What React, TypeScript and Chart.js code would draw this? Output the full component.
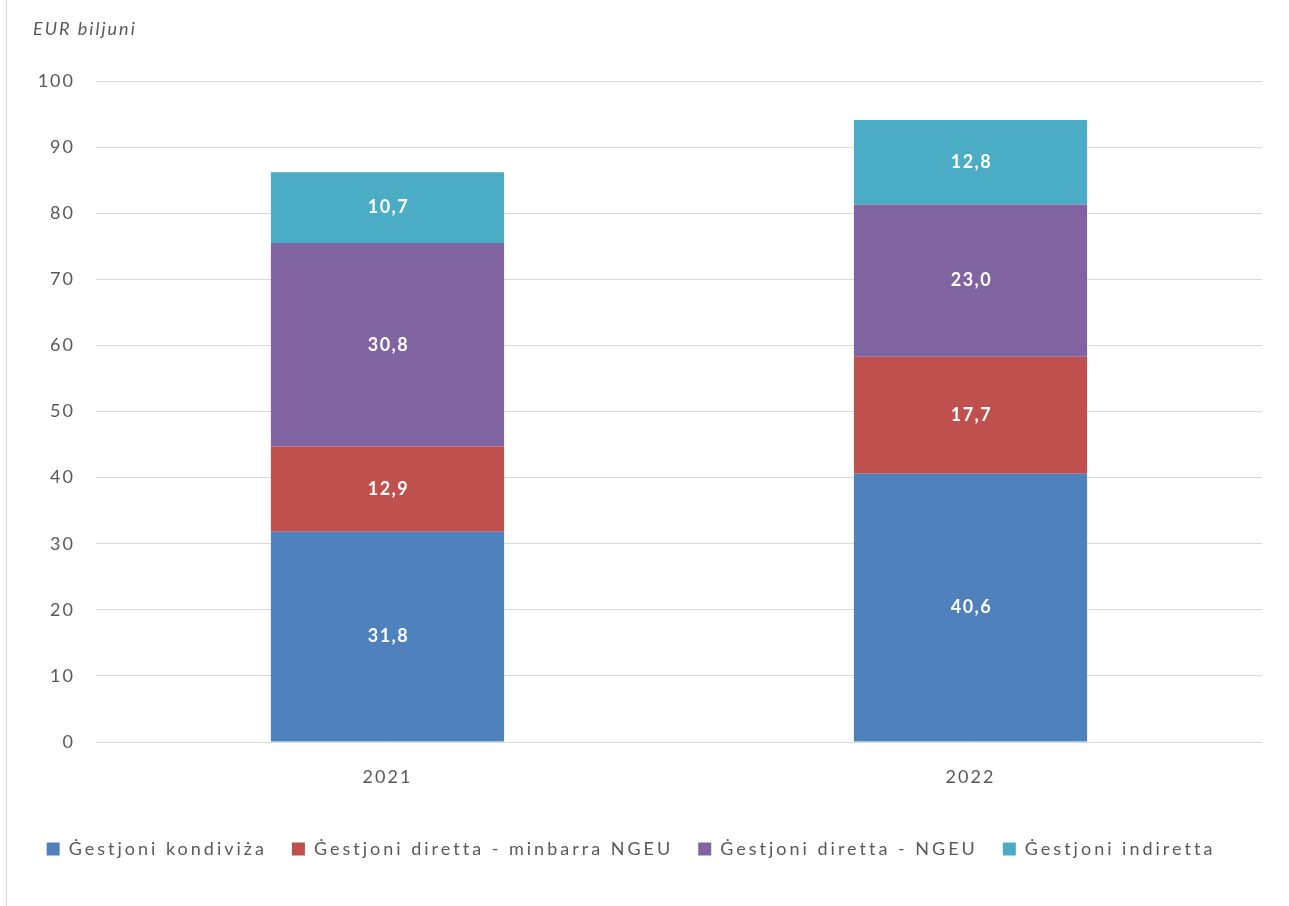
import React, { useEffect, useRef } from "react";
import { Chart, registerables } from "chart.js";

Chart.register(...registerables);

const categories = ["2021", "2022"];
const seriesNames = [
  "Ġestjoni kondiviża",
  "Ġestjoni diretta - minbarra NGEU",
  "Ġestjoni diretta - NGEU",
  "Ġestjoni indiretta",
];
const shared = [31.8, 40.6];
const directNonNgeu = [12.9, 17.7];
const directNgeu = [30.8, 23.0];
const indirect = [10.7, 12.8];
const seriesColors = ["#4F81BD", "#C0504D", "#8064A2", "#4BACC6"];
const yTitle = "EUR biljuni";
const FONT = "Lato, 'Open Sans', sans-serif";

const decor = {
  id: "decor",
  beforeUpdate(chart: any) {
    chart.ctx.letterSpacing = "2px";
  },
  beforeDraw(chart: any) {
    chart.ctx.letterSpacing = "2px";
  },
  afterDraw(chart: any) {
    const ctx = chart.ctx;
    ctx.save();
    // left frame line
    ctx.strokeStyle = "#D9D9D9";
    ctx.lineWidth = 1;
    ctx.beginPath();
    ctx.moveTo(6.5, 0);
    ctx.lineTo(6.5, chart.height);
    ctx.stroke();
    // unit label
    ctx.letterSpacing = "2px";
    ctx.fillStyle = "#595959";
    ctx.font = `italic 18px ${FONT}`;
    ctx.textAlign = "left";
    ctx.textBaseline = "middle";
    ctx.fillText(yTitle, 33, 29);
    // data labels
    ctx.letterSpacing = "1.5px";
    ctx.font = `bold 18px ${FONT}`;
    ctx.fillStyle = "#FFFFFF";
    ctx.textAlign = "center";
    chart.data.datasets.forEach((ds: any, i: number) => {
      const meta = chart.getDatasetMeta(i);
      meta.data.forEach((bar: any, j: number) => {
        const v = ds.data[j];
        const y = (bar.y + bar.base) / 2;
        ctx.fillText(v.toFixed(1).replace(".", ","), bar.x + 1, y);
      });
    });
    ctx.restore();
  },
};

export default function App() {
  const ref = useRef<HTMLCanvasElement>(null);
  useEffect(() => {
    document.body.style.margin = "0";
    const values = [shared, directNonNgeu, directNgeu, indirect];
    const chart: any = new Chart(ref.current!, {
      type: "bar",
      data: {
        labels: categories,
        datasets: seriesNames.map((n, i) => ({
          label: n,
          data: values[i],
          backgroundColor: seriesColors[i],
          categoryPercentage: 1,
          barPercentage: 0.4,
        })),
      },
      options: {
        animation: false,
        responsive: false,
        layout: { padding: { left: 0, right: 27, top: 81, bottom: 38 } },
        plugins: {
          legend: {
            position: "bottom",
            labels: {
              boxWidth: 13,
              boxHeight: 13,
              padding: 25,
              color: "#595959",
              font: { family: FONT, size: 18 },
            },
          },
          tooltip: { enabled: false },
        },
        scales: {
          x: {
            stacked: true,
            grid: { display: false, drawTicks: false },
            border: { display: false },
            ticks: { color: "#595959", font: { family: FONT, size: 18 }, padding: 24 },
            afterFit(scale: any) {
              scale.height = 73;
            },
          },
          y: {
            stacked: true,
            min: 0,
            max: 100,
            ticks: { stepSize: 10, color: "#595959", font: { family: FONT, size: 18 }, padding: 21 },
            grid: { color: "#D9D9D9", drawTicks: false },
            border: { display: false },
            afterFit(scale: any) {
              scale.width = 96;
            },
          },
        },
      },
      plugins: [decor],
    });
    const lg = chart.legend;
    if (lg) {
      const origFit = lg.fit.bind(lg);
      const origDraw = lg.draw.bind(lg);
      lg.fit = () => {
        const c = chart.ctx;
        const prev = c.letterSpacing;
        c.letterSpacing = "3px";
        origFit();
        c.letterSpacing = prev;
      };
      lg.draw = () => {
        const c = chart.ctx;
        const prev = c.letterSpacing;
        c.letterSpacing = "3px";
        origDraw();
        c.letterSpacing = prev;
      };
      chart.update();
    }
    return () => chart.destroy();
  }, []);
  return <canvas ref={ref} width={1289} height={906} style={{ display: "block" }} />;
}
